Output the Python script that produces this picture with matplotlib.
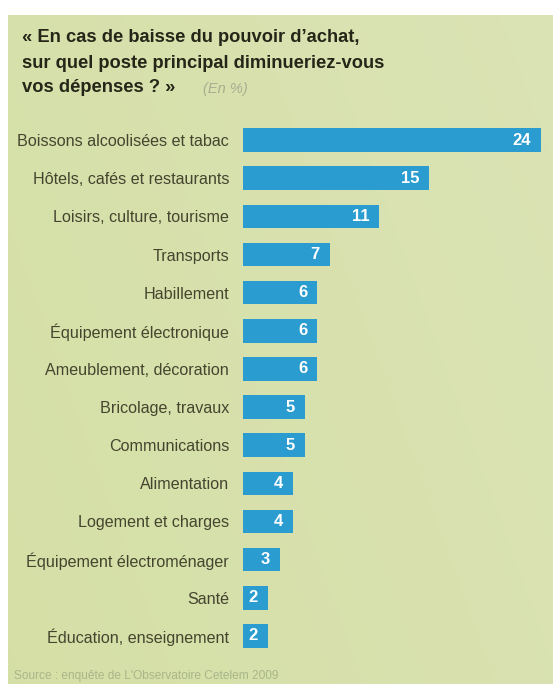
import numpy as np
import matplotlib.pyplot as plt

# Données : postes de dépenses et part des répondants (en %)
postes = [
    "Boissons alcoolisées et tabac",
    "Hôtels, cafés et restaurants",
    "Loisirs, culture, tourisme",
    "Transports",
    "Habillement",
    "Équipement électronique",
    "Ameublement, décoration",
    "Bricolage, travaux",
    "Communications",
    "Alimentation",
    "Logement et charges",
    "Équipement électroménager",
    "Santé",
    "Éducation, enseignement",
]
valeurs = [24, 15, 11, 7, 6, 6, 6, 5, 5, 4, 4, 3, 2, 2]

W, H = 553, 684
fig = plt.figure(figsize=(W / 100, H / 100), dpi=100, facecolor="white")

# fond vert en dégradé
bg = fig.add_axes([8 / W, 0, 1 - 8 / W, (H - 15) / H])
gx = np.linspace(0, 1, 200)
gy = np.linspace(0, 1, 200)
X, Y = np.meshgrid(gx, gy)
t = np.clip(0.45 * X + 0.2 * (1 - Y), 0, 1)
c0 = np.array([0.835, 0.875, 0.650])
c1 = np.array([0.870, 0.900, 0.740])
img = c0[None, None, :] * (1 - t[..., None]) + c1[None, None, :] * t[..., None]
bg.imshow(img, aspect="auto", origin="upper", extent=[0, 1, 0, 1])
bg.set_axis_off()

# barres
x0 = 243 / W
ax = fig.add_axes([x0, (H - 655) / H, 1 - x0, (655 - 121) / H])
ax.patch.set_alpha(0)
y = np.arange(len(postes))
ax.barh(y, valeurs, height=0.62, color="#2a9ccf", edgecolor="none")
ax.set_xlim(0, (W - 243) / 12.4)
ax.set_ylim(len(postes) - 0.5, -0.5)
for s in ax.spines.values():
    s.set_visible(False)
ax.set_xticks([])
ax.set_yticks(y)
ax.set_yticklabels(postes, fontsize=11.6, color="#45452f", family="Liberation Sans")
ax.tick_params(axis="y", length=0, pad=10)

for yi, v in zip(y, valeurs):
    ax.text(v - 0.8, yi, str(v), ha="right", va="center", color="white",
            fontsize=12, fontweight="bold", family="Liberation Sans")

# titre
titre = ["« En cas de baisse du pouvoir d’achat,",
         "sur quel poste principal diminueriez-vous",
         "vos dépenses ? »"]
for i, ligne in enumerate(titre):
    fig.text(22 / W, 1 - (38 + 25 * i) / H, ligne, fontsize=13.2, fontweight="bold",
             color="#262618", va="center", family="Liberation Sans")
fig.text(203 / W, 1 - 89 / H, "(En %)", fontsize=10.5, style="italic",
         color="#a8ad90", va="center", family="Liberation Sans")

fig.text(14 / W, 1 - 676 / H, "Source : enquête de L'Observatoire Cetelem 2009",
         fontsize=8.6, color="#aab58a", va="center", family="Liberation Sans")

fig.savefig("out.png", dpi=100, facecolor="white")
